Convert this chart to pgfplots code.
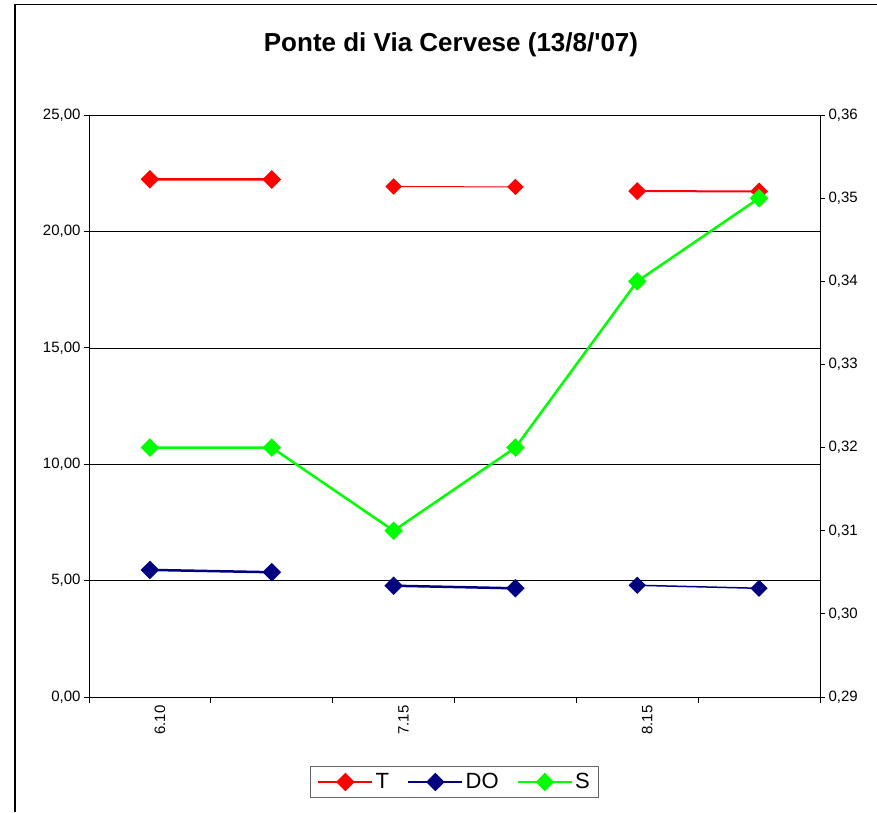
\documentclass[border=0pt]{standalone}
\usepackage{fontspec}
\setmainfont{Liberation Sans}[Ligatures=TeXOff]
\usepackage{pgfplots}
\pgfplotsset{compat=1.18}

\definecolor{tred}{RGB}{255,0,0}
\definecolor{donavy}{RGB}{0,0,128}
\definecolor{slime}{RGB}{0,255,0}

\pgfplotsset{
  dmark/.style={mark=square*, mark size=5.3pt, mark options={rotate=45, solid, fill=#1, draw=#1}},
  common/.style={
    at={(89pt,-697pt)}, anchor=south west, scale only axis,
    width=731pt, height=582pt,
    xmin=-0.5, xmax=5.5, clip=false,
    tick align=outside, major tick length=5pt,
    tick style={black, line width=0.8pt},
    axis line style={black, line width=0.8pt, -},
    ticklabel style={font=\fontsize{15}{18}\selectfont},
    /pgf/number format/assume math mode=true,
    yticklabel style={/pgf/number format/.cd, fixed, fixed zerofill, precision=2, use comma},
  },
}

\begin{document}
\begin{tikzpicture}[x=1pt,y=1pt]
\path[use as bounding box] (0,0) rectangle (877,-812);
\draw[line width=1.3pt] (15,-812) -- (15,-4.5) -- (877,-4.5);
\node[font=\bfseries\fontsize{26}{30}\selectfont] at (451,-45) {Ponte di Via Cervese (13/8/'07)};

% left axis: T and DO
\begin{axis}[common,
    ymin=0, ymax=25,
    ytick={0,5,10,15,20,25},
    ytick pos=left, xtick pos=bottom,
    ymajorgrids, grid style={black, line width=0.6pt},
    xtick={0,2,4}, xticklabels={6.10,7.15,8.15},
    major x tick style={draw=none},
    minor xtick={-0.5,0.5,1.5,2.5,3.5,4.5,5.5},
    minor tick length=6pt,
    minor x tick style={black, line width=0.8pt},
    xticklabel style={rotate=90, anchor=east, yshift=-10pt},
  ]
  \addplot[tred, line width=2.5pt, dmark=tred] coordinates {(0,22.24)(1,22.23)};
  \addplot[tred, line width=1pt, dmark=tred] coordinates {(2,21.93)(3,21.91)};
  \addplot[tred, line width=2pt, dmark=tred] coordinates {(4,21.73)(5,21.72)};
  \addplot[donavy, line width=2.5pt, dmark=donavy] coordinates {(0,5.46)(1,5.36)};
  \addplot[donavy, line width=2.5pt, dmark=donavy] coordinates {(2,4.78)(3,4.67)};
  \addplot[donavy, line width=1.5pt, dmark=donavy] coordinates {(4,4.80)(5,4.67)};
\end{axis}

% right axis: S
\begin{axis}[common,
    ymin=0.29, ymax=0.36,
    ytick={0.29,0.30,0.31,0.32,0.33,0.34,0.35,0.36},
    axis x line=none, axis y line*=right,
    legend columns=3,
    legend style={at={(0.5,-0.146)}, anchor=center,
      draw=black!60, line width=1pt, fill=white,
      font=\fontsize{22}{25}\selectfont,
      inner xsep=7pt, inner ysep=5pt,
      /tikz/every even column/.append style={column sep=16pt}},
    legend image code/.code={
      \draw[mark repeat=2, mark phase=2, #1] plot coordinates {(0pt,0pt) (27pt,0pt) (54pt,0pt)};
    },
  ]
  \addlegendimage{tred, line width=2.5pt, dmark=tred}
  \addlegendentry{T}
  \addlegendimage{donavy, line width=2.5pt, dmark=donavy}
  \addlegendentry{DO}
  \addplot[slime, line width=2.5pt, dmark=slime] coordinates {
    (0,0.32)(1,0.32)(2,0.31)(3,0.32)(4,0.34)(5,0.35)
  };
  \addlegendentry{S}
\end{axis}
\end{tikzpicture}
\end{document}
